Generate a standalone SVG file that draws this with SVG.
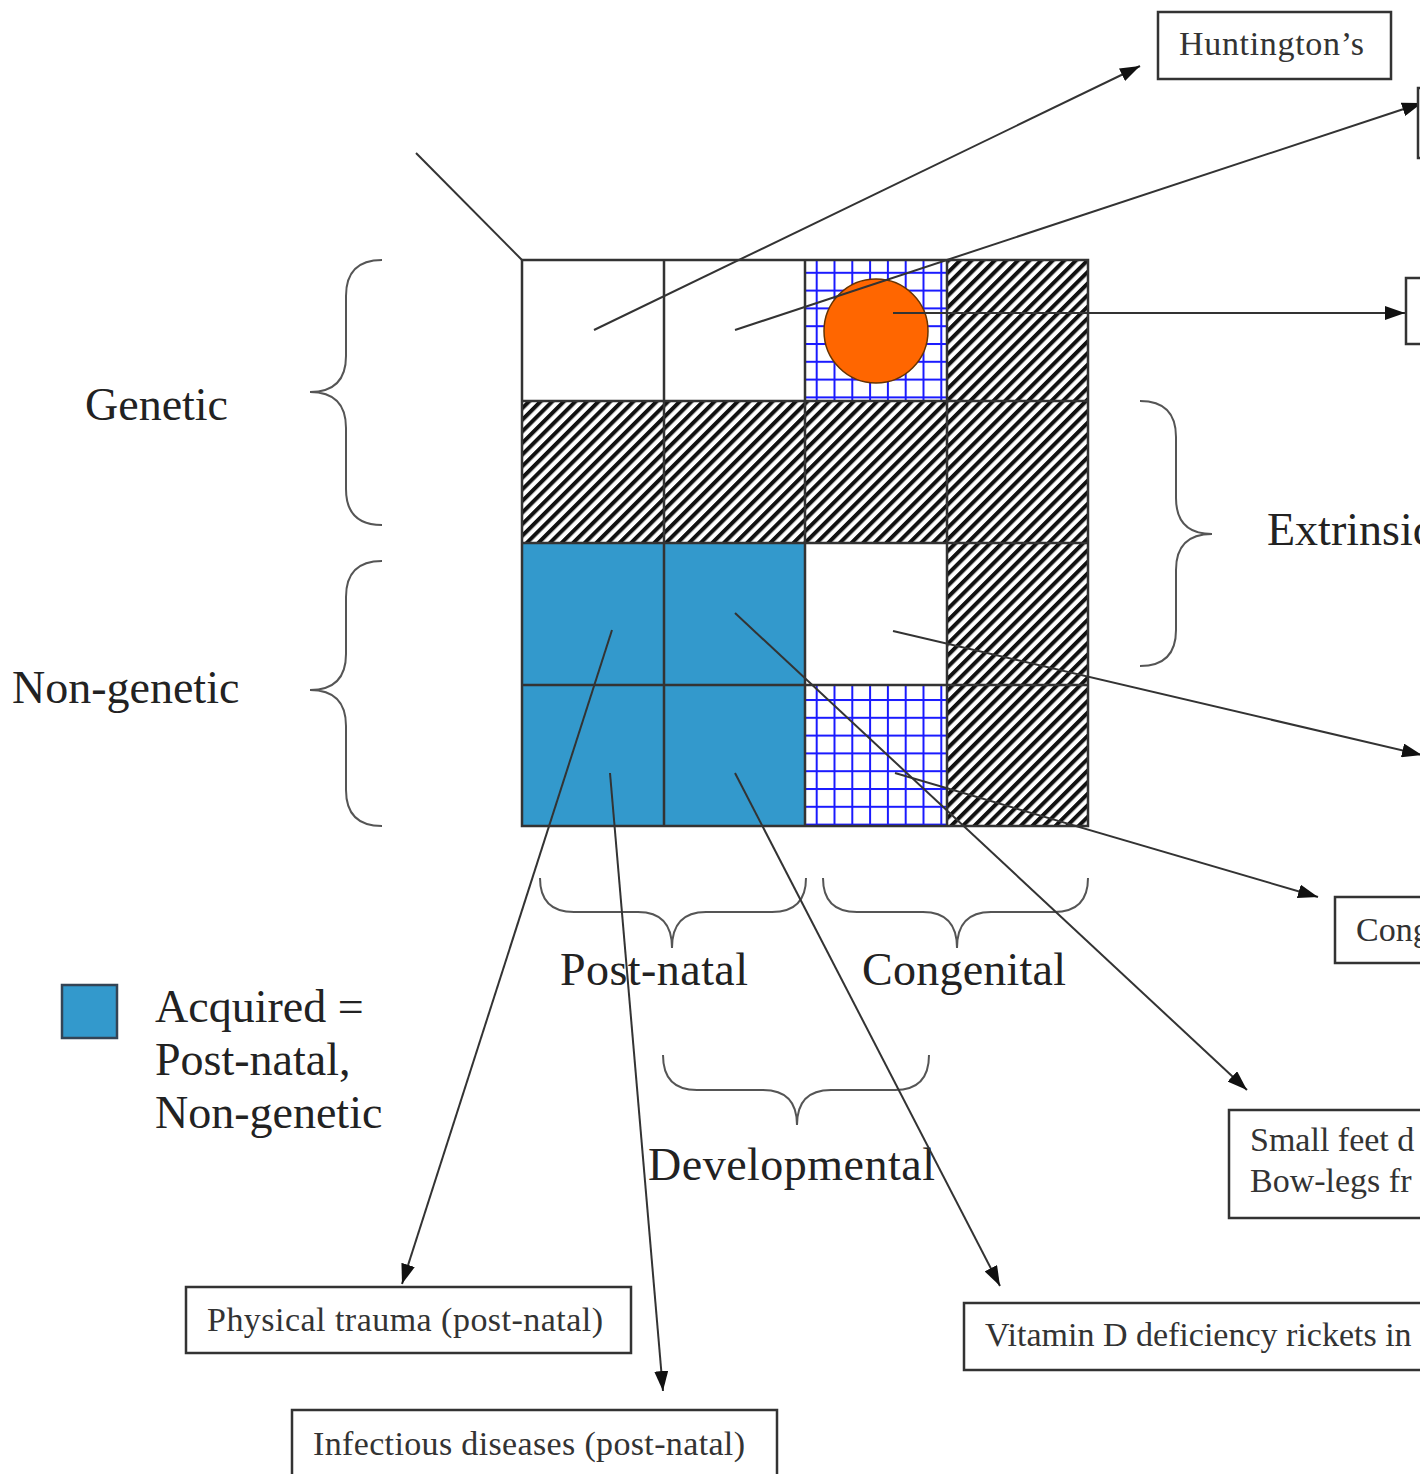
<svg xmlns="http://www.w3.org/2000/svg" width="1420" height="1474" viewBox="0 0 1420 1474">
<defs>
<style>
.lbl{font-family:"Liberation Serif","Times New Roman",serif;font-size:46px;fill:#222}
.bt{font-family:"Liberation Serif","Times New Roman",serif;font-size:34px;fill:#333}
.box{fill:#fff;stroke:#333;stroke-width:2.5}
.con{stroke:#333;stroke-width:2;fill:none}
.brace{stroke:#555;stroke-width:2;fill:none}
.gl{stroke:#333;stroke-width:2.5;fill:none}
</style>
<pattern id="hatch" patternUnits="userSpaceOnUse" width="8.2" height="8.2" patternTransform="rotate(45)">
<rect width="8.2" height="8.2" fill="#fff"/>
<rect width="4" height="8.2" fill="#111"/>
</pattern>
<pattern id="bgrid" patternUnits="userSpaceOnUse" x="815.7" y="699" width="17.8" height="17.8">
<rect width="17.8" height="17.8" fill="#fff"/>
<rect width="2" height="17.8" fill="#1a1aff"/>
<rect width="17.8" height="2" fill="#1a1aff"/>
</pattern>
<marker id="ah" markerUnits="userSpaceOnUse" viewBox="0 0 20 14" markerWidth="20" markerHeight="14" refX="20" refY="7" orient="auto">
<path d="M0,0 L20,7 L0,14 Z" fill="#111"/>
</marker>
</defs>
<rect width="1420" height="1474" fill="#fff"/>

<g id="matrix">
<rect x="522" y="260" width="142" height="141" fill="#fff"/>
<rect x="664" y="260" width="141" height="141" fill="#fff"/>
<rect x="805" y="260" width="142" height="141" fill="url(#bgrid)"/>
<rect x="947" y="260" width="141" height="141" fill="url(#hatch)"/>
<rect x="522" y="401" width="566" height="142" fill="url(#hatch)"/>
<rect x="522" y="543" width="283" height="283" fill="#3399cc"/>
<rect x="805" y="543" width="142" height="142" fill="#fff"/>
<rect x="805" y="685" width="142" height="141" fill="url(#bgrid)"/>
<rect x="947" y="543" width="141" height="283" fill="url(#hatch)"/>
<path class="gl" d="M522,260 H1088 V826 H522 Z M664,260 V826 M805,260 V826 M947,260 V826 M522,401 H1088 M522,543 H1088 M522,685 H1088"/>
<circle cx="876" cy="331" r="52" fill="#ff6600" stroke="#663300" stroke-width="1.5"/>
</g>

<g id="genetic"><path class="brace" d="M382,260 Q346,260 346,296 L346,356 Q346,392 310,392 Q346,392 346,428 L346,489 Q346,525 382,525"/><text class="lbl" x="85" y="420">Genetic</text></g>
<g id="non-genetic"><path class="brace" d="M382,561 Q346,561 346,597 L346,654 Q346,690 310,690 Q346,690 346,726 L346,790 Q346,826 382,826"/><text class="lbl" x="12" y="703">Non-genetic</text></g>
<g id="extrinsic"><path class="brace" d="M1140,401 Q1176,401 1176,437 L1176,498 Q1176,534 1212,534 Q1176,534 1176,570 L1176,630 Q1176,666 1140,666"/><text class="lbl" x="1267" y="545">Extrinsic</text></g>
<g id="post-natal"><path class="brace" d="M540,878 Q540,912 574,912 L638,912 Q672,912 672,948 Q672,912 706,912 L772,912 Q806,912 806,878"/><text class="lbl" x="560" y="985" textLength="188">Post-natal</text></g>
<g id="congenital"><path class="brace" d="M823,878 Q823,912 857,912 L923,912 Q957,912 957,948 Q957,912 991,912 L1054,912 Q1088,912 1088,878"/><text class="lbl" x="862" y="985" textLength="204">Congenital</text></g>
<g id="developmental"><path class="brace" d="M663,1055 Q663,1090 697,1090 L763,1090 Q797,1090 797,1125 Q797,1090 831,1090 L895,1090 Q929,1090 929,1055"/><text class="lbl" x="648" y="1180" textLength="287">Developmental</text></g>

<g id="legend">
<rect x="62" y="985" width="55" height="53" fill="#3399cc" stroke="#334455" stroke-width="2.5"/>
<text class="lbl" x="155" y="1022">Acquired =</text>
<text class="lbl" x="155" y="1075">Post-natal,</text>
<text class="lbl" x="155" y="1128">Non-genetic</text>
</g>

<g id="connectors">
<line class="con" x1="416" y1="153" x2="522" y2="260"/>
<line class="con" x1="594" y1="330" x2="1140" y2="66" marker-end="url(#ah)"/>
<line class="con" x1="735" y1="330" x2="1422" y2="103" marker-end="url(#ah)"/>
<line class="con" x1="893" y1="313" x2="1405" y2="313" marker-end="url(#ah)"/>
<line class="con" x1="893" y1="631" x2="1422" y2="755" marker-end="url(#ah)"/>
<line class="con" x1="735" y1="613" x2="1247" y2="1090" marker-end="url(#ah)"/>
<line class="con" x1="895" y1="773" x2="1318" y2="897" marker-end="url(#ah)"/>
<line class="con" x1="612" y1="630" x2="402" y2="1284" marker-end="url(#ah)"/>
<line class="con" x1="610" y1="773" x2="663" y2="1391" marker-end="url(#ah)"/>
<line class="con" x1="735" y1="773" x2="1000" y2="1286" marker-end="url(#ah)"/>
</g>

<g id="huntingtons"><rect class="box" x="1158" y="12" width="233" height="67"/><text class="bt" x="1179" y="55" textLength="185">Huntington’s</text></g>
<g id="box-top-right"><rect class="box" x="1418" y="88" width="100" height="70"/></g>
<g id="box-right"><rect class="box" x="1406" y="278" width="100" height="66"/></g>
<g id="congenital-box"><rect class="box" x="1335" y="897" width="200" height="66"/><text class="bt" x="1356" y="941">Cong</text></g>
<g id="small-feet"><rect class="box" x="1229" y="1110" width="300" height="108"/><text class="bt" x="1250" y="1151">Small feet d</text><text class="bt" x="1250" y="1192">Bow-legs fr</text></g>
<g id="vitamin-d"><rect class="box" x="964" y="1303" width="500" height="67"/><text class="bt" x="985" y="1346">Vitamin D deficiency rickets in</text></g>
<g id="physical-trauma"><rect class="box" x="186" y="1287" width="445" height="66"/><text class="bt" x="207" y="1331" textLength="396">Physical trauma (post-natal)</text></g>
<g id="infectious"><rect class="box" x="292" y="1410" width="485" height="80"/><text class="bt" x="313" y="1455" textLength="432">Infectious diseases (post-natal)</text></g>
</svg>
